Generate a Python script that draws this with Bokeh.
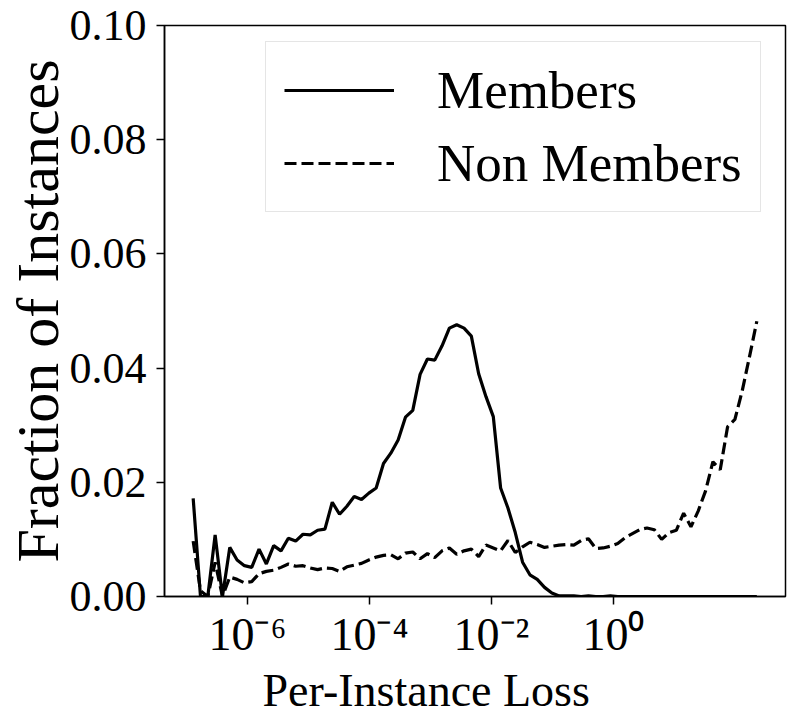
from bokeh.plotting import figure
from bokeh.models import (FixedTicker, CustomJSTickFormatter, Legend, LegendItem,
                          Range1d, NumeralTickFormatter, Title)
from bokeh.embed import file_html
from bokeh.resources import INLINE

# bin centres (log10 of per-instance loss)
log_loss = [-6.89, -6.77, -6.65, -6.53, -6.41, -6.29, -6.17, -6.05, -5.93, -5.81,
            -5.69, -5.57, -5.45, -5.33, -5.21, -5.09, -4.97, -4.85, -4.73, -4.61,
            -4.49, -4.37, -4.25, -4.13, -4.01, -3.89, -3.77, -3.65, -3.53, -3.41,
            -3.29, -3.17, -3.05, -2.93, -2.81, -2.69, -2.57, -2.45, -2.33, -2.21,
            -2.09, -1.97, -1.85, -1.73, -1.61, -1.49, -1.37, -1.25, -1.13, -1.01,
            -0.89, -0.77, -0.65, -0.53, -0.41, -0.29, -0.17, -0.05, 0.07, 0.19,
            0.31, 0.43, 0.55, 0.67, 0.79, 0.91, 1.03, 1.15, 1.27, 1.39,
            1.51, 1.63, 1.75, 1.87, 1.99, 2.11, 2.23, 2.35]

members = [0.0172, 0.0, 0.0, 0.0108, 0.0, 0.0086, 0.0064, 0.0054, 0.0051, 0.0083,
           0.0057, 0.0089, 0.0080, 0.0102, 0.0097, 0.0109, 0.0108, 0.0116, 0.0118, 0.0165,
           0.0144, 0.0158, 0.0175, 0.0170, 0.0181, 0.0190, 0.0233, 0.0251, 0.0274, 0.0314,
           0.0326, 0.0389, 0.0416, 0.0414, 0.0439, 0.0470, 0.0476, 0.0470, 0.0456, 0.0390,
           0.0350, 0.0315, 0.0190, 0.0155, 0.0112, 0.0060, 0.0038, 0.0030, 0.0016, 0.0006,
           0.0001, 0.0001, 0.0001, 0.0, 0.0001, 0.0, 0.0, 0.0001, 0.0, 0.0,
           0.0, 0.0, 0.0, 0.0, 0.0, 0.0, 0.0, 0.0, 0.0, 0.0,
           0.0, 0.0, 0.0, 0.0, 0.0, 0.0, 0.0, 0.0]

non_members = [0.0097, 0.0010, 0.0, 0.0060, 0.0, 0.0034, 0.0030, 0.0024, 0.0026, 0.0040,
               0.0044, 0.0046, 0.0051, 0.0057, 0.0053, 0.0054, 0.0050, 0.0047, 0.0050, 0.0049,
               0.0044, 0.0052, 0.0055, 0.0058, 0.0064, 0.0069, 0.0072, 0.0073, 0.0066, 0.0076,
               0.0078, 0.0066, 0.0075, 0.0068, 0.0080, 0.0085, 0.0074, 0.0080, 0.0083, 0.0070,
               0.0090, 0.0085, 0.0080, 0.0098, 0.0077, 0.0087, 0.0095, 0.0091, 0.0086, 0.0088,
               0.0090, 0.0091, 0.0090, 0.0098, 0.0101, 0.0084, 0.0085, 0.0088, 0.0093, 0.0103,
               0.0110, 0.0117, 0.0120, 0.0117, 0.0100, 0.0112, 0.0116, 0.0146, 0.0122, 0.0150,
               0.0185, 0.0236, 0.0222, 0.0297, 0.0310, 0.0360, 0.0420, 0.0482]

x_ticks = [1e-6, 1e-4, 1e-2, 1e0]
y_ticks = [0.0, 0.02, 0.04, 0.06, 0.08, 0.10]

FONT = "Liberation Serif"

x = [10 ** e for e in log_loss]

p = figure(width=789, height=721, x_axis_type="log", output_backend="svg",
           toolbar_location=None,
           x_range=Range1d(10 ** -7.36, 10 ** 2.82), y_range=Range1d(0, 0.10),
           min_border_left=164, min_border_right=4, min_border_top=25,
           min_border_bottom=125)

p.xgrid.visible = False
p.ygrid.visible = False
p.outline_line_color = "black"
p.outline_line_width = 1.5
p.background_fill_color = "white"
p.border_fill_color = "white"

r1 = p.line(x, members, line_color="black", line_width=3.2)
r2 = p.line(x, non_members, line_color="black", line_width=3.2, line_dash="12 5")

for ax in (p.xaxis[0], p.yaxis[0]):
    ax.axis_line_color = "black"
    ax.axis_line_width = 1.5
    ax.major_tick_line_width = 1.5
    ax.major_tick_out = 8
    ax.major_tick_in = 0
    ax.minor_tick_out = 0
    ax.minor_tick_in = 0
    ax.major_label_text_font = FONT
    ax.major_label_text_color = "black"
    ax.axis_label_text_font = FONT
    ax.axis_label_text_font_style = "normal"
    ax.axis_label_text_color = "black"

p.xaxis.ticker = FixedTicker(ticks=x_ticks, minor_ticks=[])
p.xaxis.formatter = CustomJSTickFormatter(code="""
const e = Math.round(Math.log10(tick));
const sup = {'-': '\u207b', '0': '\u2070', '1': '\u00b9', '2': '\u00b2', '3': '\u00b3',
             '4': '\u2074', '5': '\u2075', '6': '\u2076', '7': '\u2077', '8': '\u2078', '9': '\u2079'};
return '10' + String(e).split('').map(c => sup[c]).join('');
""")
p.xaxis.major_label_text_font_size = "46px"
p.xaxis.major_label_standoff = 4

# x-axis title, placed left of centre as in the original
xtitle = Title(text="Per-Instance Loss", align="left", offset=98, standoff=0,
               text_font=FONT, text_font_size="46px", text_font_style="normal",
               text_color="black")
p.add_layout(xtitle, "below")

p.yaxis.ticker = FixedTicker(ticks=y_ticks, minor_ticks=[])
p.yaxis.formatter = NumeralTickFormatter(format="0.00")
p.yaxis.major_label_text_font_size = "44px"
p.yaxis.major_label_standoff = 10
p.yaxis.axis_label = "Fraction of Instances"
p.yaxis.axis_label_text_font_size = "60px"
p.yaxis.axis_label_standoff = -4

legend = Legend(items=[LegendItem(label="Members", renderers=[r1]),
                       LegendItem(label="Non Members", renderers=[r2])],
                location=(101, 384))
legend.label_text_font = FONT
legend.label_text_font_size = "53px"
legend.label_text_color = "black"
legend.glyph_width = 110
legend.glyph_height = 50
legend.label_standoff = 43
legend.spacing = 13
legend.padding = 18
legend.margin = 0
legend.border_line_color = "#cccccc"
legend.border_line_width = 1.2
legend.background_fill_color = "white"
legend.background_fill_alpha = 0.8
p.add_layout(legend)

open("out.html", "w").write(file_html(p, INLINE))
